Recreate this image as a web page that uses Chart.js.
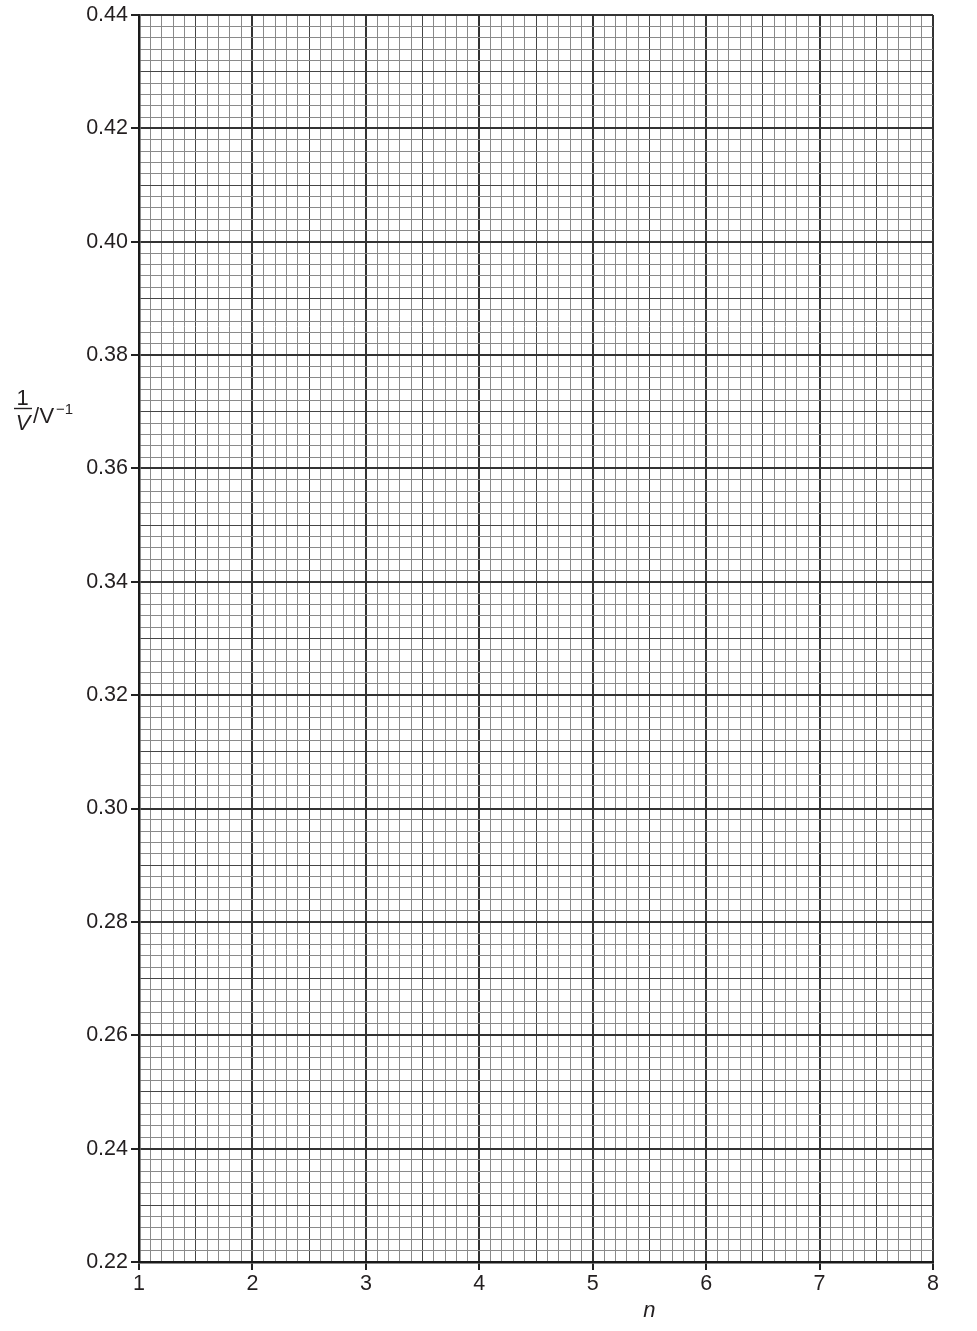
<!DOCTYPE html>
<html>
<head>
<meta charset="utf-8">
<script src="https://cdn.jsdelivr.net/npm/chart.js@4.4.1/dist/chart.umd.min.js"></script>
<style>
  html, body { margin: 0; padding: 0; background: #fff; }
  #chart { width: 977px; height: 1331px; }
</style>
</head>
<body>
<div id="chart"><canvas id="myChart" width="977" height="1331"></canvas></div>
<script>
// rango de los ejes y etiquetas
var xTickLabels = ['1', '2', '3', '4', '5', '6', '7', '8'];
var yTickLabels = ['0.22', '0.24', '0.26', '0.28', '0.30', '0.32', '0.34', '0.36', '0.38', '0.40', '0.42', '0.44'];
var xRange = [1, 8];
var yRange = [0.22, 0.44];
var xMinorStep = 0.1;
var yMinorStep = 0.002;
// hoja vacia: no hay puntos medidos todavia
var points = [];

var FONT = "'Liberation Sans', Arial, Helvetica, sans-serif";
var INK = '#231f20';

/*
* Function: tipo de linea de la cuadricula
* 2 = linea principal, 1 = media division, 0 = linea fina
*/
function lineKind(value, min, step){
	var i = Math.round((value - min) / step);
	if (i % 10 === 0) return 2;
	if (i % 5 === 0) return 1;
	return 0;
}

function gridFor(min, step){
	return {
		color: function(c){
			var k = c.tick ? lineKind(c.tick.value, min, step) : 0;
			return k == 2 ? '#333333' : (k == 1 ? '#454545' : '#8a8a8a');
		},
		lineWidth: function(c){
			var k = c.tick ? lineKind(c.tick.value, min, step) : 0;
			return k == 2 ? 2 : 1;
		},
		tickColor: function(c){
			var k = c.tick ? lineKind(c.tick.value, min, step) : 0;
			return k == 2 ? '#222222' : 'rgba(0,0,0,0)';
		},
		tickWidth: 2,
		tickLength: 8
	};
}

function tickLabel(labels, min, step){
	return function(value){
		var i = Math.round((value - min) / step);
		return i % 10 === 0 ? labels[i / 10] : '';
	};
}

var paper = {
	id: 'paper',
	beforeDraw: function(chart){
		var ctx = chart.ctx;
		ctx.save();
		ctx.fillStyle = '#ffffff';
		ctx.fillRect(0, 0, chart.width, chart.height);
		ctx.restore();
	},
	afterDraw: function(chart){
		var ctx = chart.ctx;
		var xs = chart.scales.x;
		ctx.save();
		ctx.fillStyle = INK;
		ctx.strokeStyle = INK;

		// titulo eje y: 1/V / V^-1
		ctx.textAlign = 'center';
		ctx.textBaseline = 'alphabetic';
		ctx.font = '22px ' + FONT;
		ctx.fillText('1', 22.5, 404.5);
		ctx.lineWidth = 1.4;
		ctx.beginPath();
		ctx.moveTo(14, 408.5);
		ctx.lineTo(32, 408.5);
		ctx.stroke();
		ctx.font = 'italic 22px ' + FONT;
		ctx.fillText('V', 23, 429.5);
		ctx.textAlign = 'left';
		ctx.font = '22px ' + FONT;
		ctx.fillText('/', 33, 422.5);
		ctx.fillText('V', 39.5, 422.5);
		ctx.font = '15px ' + FONT;
		ctx.fillText('\u22121', 56, 413.5);

		// titulo eje x
		ctx.textAlign = 'center';
		ctx.font = 'italic 22px ' + FONT;
		ctx.fillText('n', xs.getPixelForValue(5.5), 1316.5);
		ctx.restore();
	}
};

function showchart(){
	var ctx = document.getElementById('myChart');
	new Chart(ctx, {
		type: 'scatter',
		data: {
			datasets: [{ label: 'datos', data: points, pointRadius: 3, backgroundColor: INK }]
		},
		plugins: [paper],
		options: {
			responsive: false,
			animation: false,
			devicePixelRatio: 1,
			layout: { padding: { left: 0, right: 44, top: 15, bottom: 0 } },
			plugins: { legend: { display: false }, tooltip: { enabled: false } },
			scales: {
				x: {
					type: 'linear',
					min: xRange[0],
					max: xRange[1],
					grid: gridFor(xRange[0], xMinorStep),
					border: { display: true, color: '#1a1a1a', width: 2.5 },
					ticks: {
						stepSize: xMinorStep,
						autoSkip: false,
						maxRotation: 0,
						minRotation: 0,
						padding: 1,
						color: INK,
						font: { family: FONT, size: 21.5 },
						callback: tickLabel(xTickLabels, xRange[0], xMinorStep)
					},
					afterFit: function(scale){
						scale.height = 69;
						scale.paddingLeft = 0;
						scale.paddingRight = 0;
					}
				},
				y: {
					type: 'linear',
					min: yRange[0],
					max: yRange[1],
					grid: gridFor(yRange[0], yMinorStep),
					border: { display: true, color: '#1a1a1a', width: 2.5 },
					ticks: {
						stepSize: yMinorStep,
						autoSkip: false,
						padding: 3,
						color: INK,
						font: { family: FONT, size: 21.5 },
						callback: tickLabel(yTickLabels, yRange[0], yMinorStep)
					},
					afterFit: function(scale){
						scale.width = 139;
						scale.paddingTop = 0;
						scale.paddingBottom = 0;
					}
				}
			}
		}
	});
}

showchart();
</script>
</body>
</html>
